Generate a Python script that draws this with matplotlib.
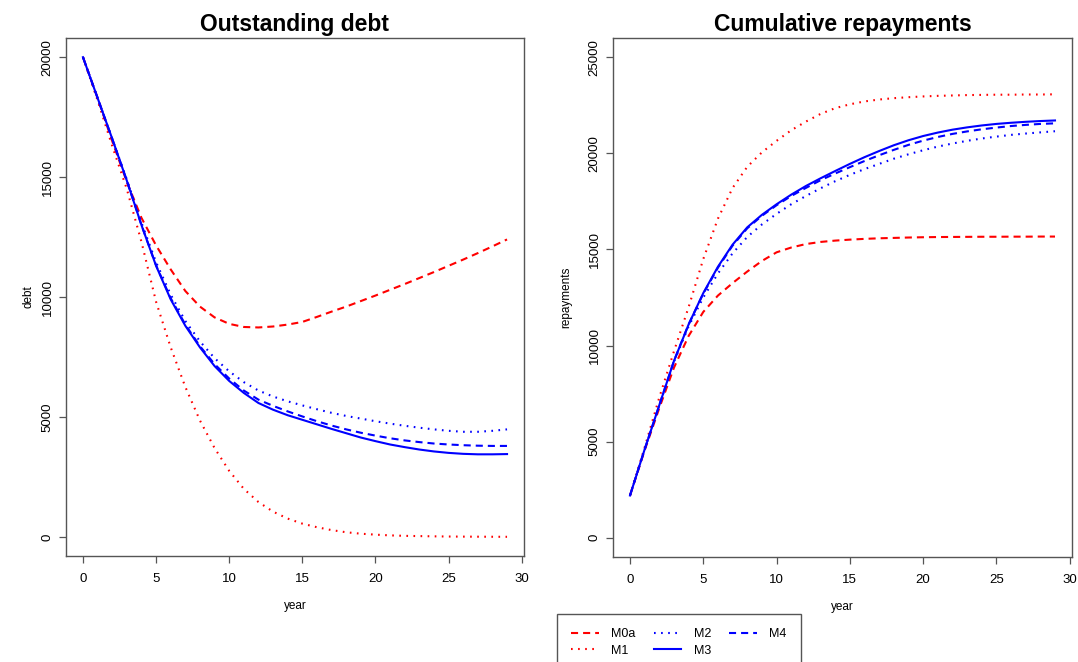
import matplotlib
matplotlib.use("Agg")
import matplotlib.pyplot as plt
from matplotlib.lines import Line2D

plt.rcParams['font.family'] = ['Liberation Sans', 'DejaVu Sans']

years = list(range(0, 30))

# outstanding debt
debt_m0a = [20000, 18300, 16500, 14800, 13300, 12150, 11150, 10250, 9600, 9150,
            8880, 8750, 8730, 8770, 8850, 8960, 9170, 9390, 9600, 9830,
            10060, 10300, 10540, 10790, 11040, 11300, 11560, 11830, 12110, 12400]
debt_m1 = [20000, 18200, 16300, 14500, 12300, 9800, 7900, 6250, 4850, 3700,
           2750, 2000, 1450, 1050, 760, 550, 400, 280, 190, 130,
           90, 60, 40, 30, 20, 12, 8, 5, 2, 0]
debt_m2 = [20000, 18300, 16600, 14900, 13100, 11450, 10100, 9000, 8150, 7450,
           6900, 6450, 6100, 5850, 5650, 5480, 5320, 5170, 5040, 4930,
           4820, 4720, 4630, 4550, 4480, 4420, 4380, 4380, 4420, 4480]
debt_m3 = [20000, 18300, 16600, 14850, 13000, 11300, 9900, 8800, 7900, 7120,
           6500, 6000, 5580, 5300, 5070, 4880, 4690, 4500, 4320, 4140,
           3990, 3850, 3740, 3640, 3560, 3500, 3460, 3440, 3440, 3450]
debt_m4 = [20000, 18300, 16600, 14850, 13000, 11320, 9950, 8850, 7950, 7200,
           6600, 6100, 5720, 5460, 5230, 5020, 4820, 4640, 4480, 4340,
           4220, 4110, 4020, 3950, 3890, 3850, 3820, 3800, 3790, 3790]

# cumulative repayments
rep_m0a = [2200, 4550, 6750, 8850, 10500, 11750, 12600, 13250, 13850, 14400,
           14850, 15100, 15280, 15390, 15460, 15510, 15550, 15580, 15600, 15620,
           15635, 15645, 15650, 15655, 15660, 15660, 15665, 15665, 15670, 15670]
rep_m1 = [2200, 4700, 7300, 9700, 12000, 14500, 16600, 18200, 19300, 20050,
          20650, 21200, 21650, 22050, 22350, 22550, 22700, 22800, 22870, 22920,
          22960, 22990, 23010, 23030, 23040, 23050, 23050, 23060, 23060, 23070]
rep_m2 = [2200, 4600, 6900, 9150, 11000, 12500, 13750, 14800, 15650, 16300,
          16850, 17350, 17780, 18180, 18550, 18880, 19180, 19450, 19720, 19950,
          20160, 20350, 20510, 20650, 20770, 20870, 20960, 21030, 21090, 21150]
rep_m3 = [2200, 4600, 6900, 9200, 11100, 12730, 14100, 15250, 16150, 16800,
          17350, 17850, 18300, 18700, 19080, 19450, 19800, 20120, 20420, 20680,
          20900, 21080, 21230, 21350, 21450, 21530, 21590, 21640, 21680, 21710]
rep_m4 = [2200, 4600, 6900, 9200, 11100, 12700, 14050, 15200, 16100, 16750,
          17300, 17780, 18200, 18600, 18950, 19280, 19600, 19900, 20180, 20440,
          20660, 20850, 21010, 21140, 21250, 21340, 21420, 21480, 21530, 21560]

labels = ["M0a", "M1", "M2", "M3", "M4"]
colors = ["red", "red", "blue", "blue", "blue"]
dash = (0, (3.4, 2.4))
dot = (0, (0.8, 2.6))
styles = [dash, dot, dot, "-", dash]

W, H = 1078, 662
fig = plt.figure(figsize=(W / 100, H / 100), dpi=100)
ax1 = fig.add_axes([66 / W, 1 - 556 / H, 458 / W, 518 / H])
ax2 = fig.add_axes([613 / W, 1 - 557 / H, 459 / W, 519 / H])


def style_axis(ax, title, ylabel, ylim, yticks, ylab_x):
    ax.set_xlim(-1.16, 30.16)
    ax.set_ylim(*ylim)
    ax.set_xticks(range(0, 31, 5))
    ax.set_yticks(yticks)
    ax.set_title(title, fontsize=16.5, fontweight="bold", pad=5)
    ax.set_xlabel("year", fontsize=8.5, labelpad=11)
    ax.set_ylabel(ylabel, fontsize=8.5)
    ax.yaxis.set_label_coords(ylab_x, 0.5)
    ax.tick_params(length=5, width=0.9, color="#555555", labelsize=9.5)
    ax.tick_params(axis="x", pad=7)
    ax.tick_params(axis="y", pad=4)
    plt.setp(ax.get_yticklabels(), rotation=90, va="center")
    for s in ax.spines.values():
        s.set_color("#555555")
        s.set_linewidth(1)


debt_series = [debt_m0a, debt_m1, debt_m2, debt_m3, debt_m4]
rep_series = [rep_m0a, rep_m1, rep_m2, rep_m3, rep_m4]

for vals, c, ls in zip(debt_series, colors, styles):
    ax1.plot(years, vals, color=c, linestyle=ls, linewidth=1.5)
for vals, c, ls in zip(rep_series, colors, styles):
    ax2.plot(years, vals, color=c, linestyle=ls, linewidth=1.5)

style_axis(ax1, "Outstanding debt", "debt", (-800, 20800), range(0, 20001, 5000), -0.069)
style_axis(ax2, "Cumulative repayments", "repayments", (-1000, 26000), range(0, 25001, 5000), -0.089)

handles = [Line2D([], [], color=c, linestyle=ls, linewidth=1.5)
           for c, ls in zip(colors, styles)]
leg = fig.legend(handles, labels, ncol=3, loc="upper left",
                 bbox_to_anchor=(557 / W, 1 - 614 / H), borderaxespad=0,
                 fontsize=9, fancybox=False, framealpha=1, edgecolor="#555555",
                 handlelength=2.2, handletextpad=1.0, columnspacing=1.45,
                 borderpad=1.15, labelspacing=0.35)
leg.get_frame().set_linewidth(1)

fig.savefig("out.png", dpi=100)
